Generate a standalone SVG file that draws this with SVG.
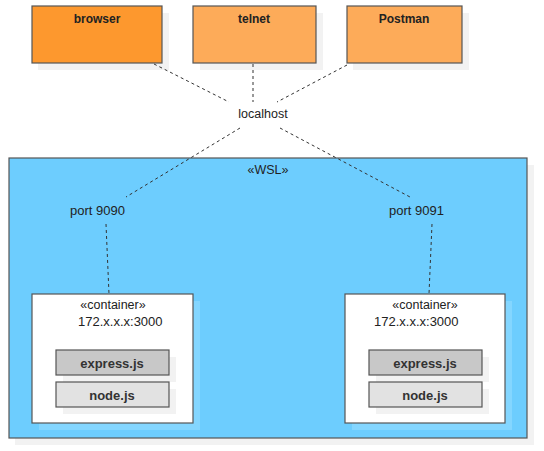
<svg xmlns="http://www.w3.org/2000/svg" width="544" height="451" viewBox="0 0 544 451">
<style>
text{font-family:"Liberation Sans",Arial,sans-serif;font-size:13px;fill:#222}
.b{font-weight:bold;font-size:12px}
.lib{font-weight:bold;font-size:13px;fill:#333}
.sh{fill:#f2f2f2}
.shb{fill:#84d6ff}
.box{stroke:#555;stroke-width:1.2}
.con{stroke:#333;stroke-width:1;stroke-dasharray:3,3;fill:none}
</style>
<rect width="544" height="451" fill="#fff"/>
<g id="wsl">
<rect class="sh" x="15" y="165" width="519" height="280"/>
<rect class="box" x="9" y="158" width="518" height="280" fill="#6dcdfe"/>
<text x="268" y="174" text-anchor="middle" style="font-size:12.5px">«WSL»</text>
</g>
<g id="browser">
<rect class="sh" x="38" y="13" width="131" height="57"/>
<rect class="box" x="32" y="6" width="130" height="57" fill="#fd982e"/>
<text class="b" x="97" y="23" text-anchor="middle">browser</text>
</g>
<g id="telnet">
<rect class="sh" x="200" y="13" width="123" height="57"/>
<rect class="box" x="193" y="6" width="123" height="57" fill="#fdab59"/>
<text class="b" x="254" y="23" text-anchor="middle">telnet</text>
</g>
<g id="postman">
<rect class="sh" x="353" y="13" width="116" height="57"/>
<rect class="box" x="347" y="6" width="115" height="57" fill="#fdab59"/>
<text class="b" x="404" y="23" text-anchor="middle">Postman</text>
</g>
<g id="localhost"><text x="263" y="118" text-anchor="middle" style="font-size:12.5px">localhost</text></g>
<g id="port9090"><text x="70" y="215">port 9090</text></g>
<g id="port9091"><text x="389" y="215">port 9091</text></g>
<g id="container1">
<rect class="shb" x="39" y="301" width="161" height="129"/>
<rect class="box" x="32" y="294" width="161" height="129" fill="#fff"/>
<text x="113" y="309" text-anchor="middle" style="font-size:12.5px">«container»</text>
<text x="78" y="326">172.x.x.x:3000</text>
<rect class="sh" x="63" y="357" width="113" height="25"/>
<rect class="box" x="56" y="350" width="113" height="25" fill="#c8c8c8"/>
<text class="lib" x="112" y="368" text-anchor="middle">express.js</text>
<rect class="sh" x="63" y="389" width="113" height="25"/>
<rect class="box" x="56" y="382" width="113" height="25" fill="#e2e2e2"/>
<text class="lib" x="112" y="400" text-anchor="middle">node.js</text>
</g>
<g id="container2">
<rect class="shb" x="352" y="301" width="160" height="129"/>
<rect class="box" x="345" y="294" width="160" height="129" fill="#fff"/>
<text x="425" y="309" text-anchor="middle" style="font-size:12.5px">«container»</text>
<text x="374" y="326">172.x.x.x:3000</text>
<rect class="sh" x="376" y="357" width="113" height="25"/>
<rect class="box" x="369" y="350" width="113" height="25" fill="#c8c8c8"/>
<text class="lib" x="425" y="368" text-anchor="middle">express.js</text>
<rect class="sh" x="376" y="389" width="113" height="25"/>
<rect class="box" x="369" y="382" width="113" height="25" fill="#e2e2e2"/>
<text class="lib" x="425" y="400" text-anchor="middle">node.js</text>
</g>
<g id="connectors">
<line class="con" x1="154" y1="64" x2="229" y2="102"/>
<line class="con" x1="253" y1="64" x2="253" y2="102"/>
<line class="con" x1="347" y1="65" x2="277" y2="102"/>
<line class="con" x1="240" y1="128" x2="126" y2="197"/>
<line class="con" x1="280" y1="128" x2="410" y2="197"/>
<line class="con" x1="106" y1="224" x2="109" y2="294"/>
<line class="con" x1="432" y1="224" x2="429" y2="294"/>
</g>
</svg>
